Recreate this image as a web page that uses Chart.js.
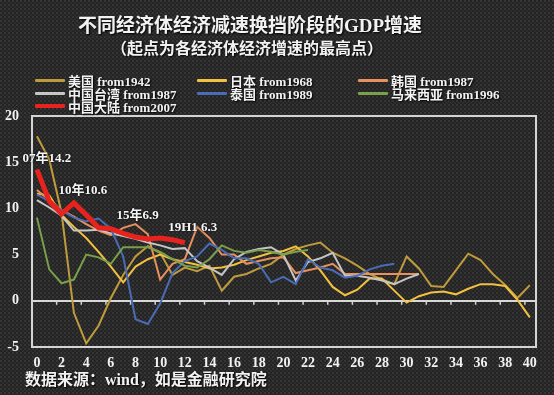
<!DOCTYPE html>
<html>
<head>
<meta charset="utf-8">
<script src="https://cdn.jsdelivr.net/npm/chart.js@4.4.1/dist/chart.umd.min.js"></script>
<style>
    html, body { margin: 0; padding: 0; }
    body {
        width: 554px; height: 395px; overflow: hidden;
        background-color: #232323;
        background-image:
            radial-gradient(circle at 1px 1px, #363636 0.8px, transparent 1.6px),
            radial-gradient(circle at 3px 3px, #2e2e2e 0.8px, transparent 1.6px);
        background-size: 4px 4px, 4px 4px;
    }
    #wrap { position: relative; width: 554px; height: 395px; }
    #gdpChart { position: absolute; left: 0; top: 0; }
    .txt {
        position: absolute; color: #f2f2f2; font-weight: bold; white-space: nowrap;
        font-family: 'Liberation Serif', 'Noto Sans CJK SC', serif;
        text-shadow: 1px 1px 2px #000;
    }
    #title { left: 0; width: 500px; top: 14px; text-align: center; font-size: 19px; line-height: 24px; }
    #subtitle { left: 0; width: 494px; top: 39px; text-align: center; font-size: 16px; line-height: 20px; }
    #source { left: 25px; top: 370px; font-size: 16px; line-height: 20px; }
    .legend-item { position: absolute; height: 14px; display: flex; align-items: center; font-size: 13px; }
    .legend-item i { display: inline-block; width: 30px; height: 3px; margin-right: 3px; border-radius: 1px; }
</style>
</head>
<body>
<div id="wrap">
    <canvas id="gdpChart" width="554" height="395"></canvas>
    <div id="title" class="txt">不同经济体经济减速换挡阶段的GDP增速</div>
    <div id="subtitle" class="txt">（起点为各经济体经济增速的最高点）</div>
    <div id="legend"></div>
    <div id="source" class="txt">数据来源：wind，如是金融研究院</div>
</div>
<script>
// series names (legend order)
const seriesNames = ['美国 from1942', '日本 from1968', '韩国 from1987', '中国台湾 from1987', '泰国 from1989', '马来西亚 from1996', '中国大陆 from2007'];

// GDP growth (%), x = years since the peak
const usGdp = [17.8, 15.3, 9.5, -1.3, -4.6, -2.7, 0.3, 2.8, 4.8, 5.9, 5.2, 2.8, 3.6, 3.2, 3.8, 1.1, 2.6, 2.9, 3.5, 4.0,
    5.0, 5.6, 6.0, 6.3, 5.2, 4.6, 3.8, 2.9, 2.3, 1.8, 4.8, 3.5, 1.6, 1.5, 3.3, 5.1, 4.4, 2.9, 1.7, 0.3, 1.7];
const japanGdp = [11.6, 11.4, 9.3, 8.0, 6.8, 5.3, 3.7, 2.0, 3.7, 4.5, 5.0, 4.5, 4.2, 3.9, 3.5, 3.6, 3.9, 4.4, 4.8, 5.2,
    5.4, 5.9, 4.8, 3.3, 1.5, 0.6, 1.2, 2.4, 2.4, 1.1, -0.2, 0.5, 0.9, 1.0, 0.7, 1.3, 1.8, 1.8, 1.6, 0.1, -1.8];
const koreaGdp = [12.0, 10.9, 9.8, 9.1, 8.3, 7.6, 7.1, 7.9, 8.3, 7.2, 2.3, 4.0, 4.5, 8.0, 6.8, 5.0, 5.0, 4.0, 4.3, 4.6,
    4.7, 3.0, 3.3, 3.6, 4.0, 2.9, 2.9, 2.9, 2.9, 2.9, 2.9, 2.9];
const taiwanGdp = [10.9, 10.1, 9.2, 7.6, 7.6, 7.7, 7.3, 7.0, 6.7, 6.3, 6.0, 5.6, 5.7, 4.3, 3.6, 2.8, 4.5, 5.3, 5.6, 5.8,
    5.0, 2.2, 4.2, 4.6, 5.2, 2.7, 2.7, 2.5, 2.2, 1.8, 2.4, 2.9];
const thailandGdp = [11.5, 10.8, 9.8, 9.0, 8.6, 8.9, 7.8, 4.8, -2.0, -2.5, -0.3, 3.0, 4.3, 4.8, 6.2, 5.5, 4.6, 4.6, 4.0, 2.0,
    2.6, 1.8, 4.5, 3.6, 3.3, 2.5, 2.7, 3.4, 3.8, 4.0];
const malaysiaGdp = [9.0, 3.4, 1.9, 2.3, 5.0, 4.7, 4.0, 5.8, 5.8, 5.8, 5.3, 4.5, 3.8, 3.6, 4.5, 6.0, 5.4, 5.2, 5.5, 5.3,
    5.0, 5.3, 5.5];
const chinaGdp = [14.2, 10.8, 9.4, 10.6, 9.3, 7.9, 7.8, 7.3, 6.9, 6.7, 6.8, 6.6, 6.3];

// annotations on the China line
const noteIndex = [0, 3, 8, 12];
const noteText = ['07年14.2', '10年10.6', '15年6.9', '19H1 6.3'];

const seriesData = [usGdp, japanGdp, koreaGdp, taiwanGdp, thailandGdp, malaysiaGdp, chinaGdp];
const seriesColors = ['#bf9b3c', '#f3c13f', '#e8905e', '#c6c6c6', '#4a6cb4', '#79a04a', '#e8231e'];

const serif = "'Liberation Serif', 'Noto Sans CJK SC', serif";

// frame around the plot + small tick marks on the zero line
const framePlugin = {
    id: 'frame',
    beforeDatasetsDraw(chart) {
        const { ctx, chartArea: a, scales } = chart;
        ctx.save();
        ctx.strokeStyle = '#d4d4d4';
        ctx.lineWidth = 2;
        ctx.strokeRect(a.left, a.top, a.right - a.left, a.bottom - a.top);
        const y0 = scales.y.getPixelForValue(0);
        ctx.lineWidth = 1.5;
        ctx.beginPath();
        for (let v = 1.6; v < 40.5; v += 2) {
            const x = scales.x.getPixelForValue(v);
            ctx.moveTo(x, y0);
            ctx.lineTo(x, y0 + 4);
        }
        ctx.stroke();
        ctx.restore();
    }
};

// text labels on the China line
const notePlugin = {
    id: 'notes',
    afterDatasetsDraw(chart) {
        const { ctx } = chart;
        const meta = chart.getDatasetMeta(6);
        const offsets = [[10, -11], [9, -12], [2, -21], [8, -15]];
        ctx.save();
        ctx.font = 'bold 13px ' + serif;
        ctx.fillStyle = '#f4f4f4';
        ctx.textAlign = 'center';
        ctx.textBaseline = 'middle';
        ctx.shadowColor = 'rgba(0,0,0,0.9)';
        ctx.shadowBlur = 3;
        noteIndex.forEach((idx, k) => {
            const pt = meta.data[idx];
            ctx.fillText(noteText[k], pt.x + offsets[k][0], pt.y + offsets[k][1]);
        });
        ctx.restore();
    }
};

document.addEventListener('DOMContentLoaded', () => {
    Chart.defaults.color = '#f2f2f2';
    Chart.defaults.font.family = serif;

    const datasets = seriesNames.map((name, i) => ({
        label: name,
        data: seriesData[i].map((v, x) => ({ x: x, y: v })),
        borderColor: seriesColors[i],
        backgroundColor: seriesColors[i],
        borderWidth: i === 6 ? 5 : 2,
        pointRadius: 0,
        tension: 0,
        order: i === 6 ? 0 : 7 - i
    }));

    const chart = new Chart(document.getElementById('gdpChart').getContext('2d'), {
        type: 'line',
        data: { datasets: datasets },
        plugins: [framePlugin, notePlugin],
        options: {
            responsive: false,
            animation: false,
            layout: { padding: { top: 116, right: 18, left: 0, bottom: 0 } },
            plugins: {
                legend: { display: false },
                tooltip: { enabled: false }
            },
            scales: {
                x: {
                    type: 'linear',
                    min: -0.4,
                    max: 40.5,
                    afterFit: (scale) => { scale.height = 48; },
                    grid: { display: false, drawTicks: false },
                    border: { display: false },
                    ticks: {
                        stepSize: 2,
                        includeBounds: false,
                        padding: 8,
                        maxRotation: 0,
                        autoSkip: false,
                        font: { size: 14, weight: 'bold' }
                    }
                },
                y: {
                    min: -5,
                    max: 20,
                    afterFit: (scale) => { scale.width = 32; },
                    grid: {
                        drawTicks: false,
                        lineWidth: 2,
                        color: (c) => (c.tick && c.tick.value === 0 ? '#d8d8d8' : 'transparent')
                    },
                    border: { display: false },
                    ticks: {
                        stepSize: 5,
                        padding: 13,
                        font: { size: 14, weight: 'bold' }
                    }
                }
            }
        }
    });

    // legend in three columns, built from the chart datasets
    const colX = [35, 197, 358];
    const rowY = [73, 86, 99];
    const legend = document.getElementById('legend');
    chart.data.datasets.forEach((ds, i) => {
        const item = document.createElement('div');
        item.className = 'legend-item txt';
        item.style.left = colX[i % 3] + 'px';
        item.style.top = rowY[Math.floor(i / 3)] + 'px';
        const sw = document.createElement('i');
        sw.style.background = ds.borderColor;
        if (i === 6) sw.style.height = '4px';
        item.appendChild(sw);
        item.appendChild(document.createTextNode(ds.label));
        legend.appendChild(item);
    });
});
</script>
</body>
</html>
